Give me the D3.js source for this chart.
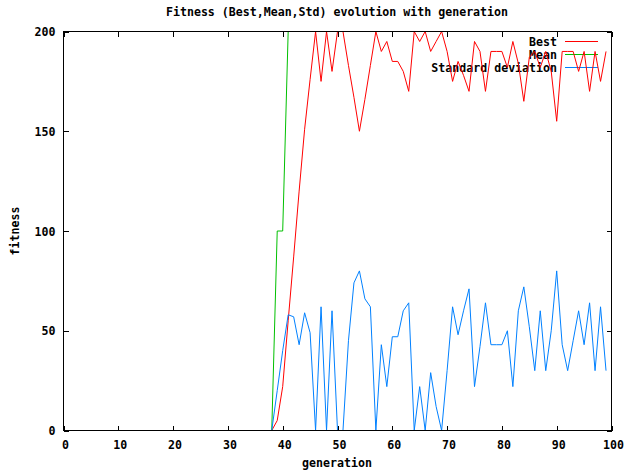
<!DOCTYPE html>
<html>
<head>
<meta charset="utf-8">
<script src="https://cdn.jsdelivr.net/npm/d3@7/dist/d3.min.js"></script>
<style>
  html, body { margin: 0; padding: 0; background: #fff; }
  svg { display: block; }
  text { font-family: "DejaVu Sans Mono", "Liberation Mono", monospace; font-weight: bold; font-size: 11.6px; fill: #000; }
</style>
</head>
<body>
<svg id="chart" width="625" height="472"></svg>
<script>
// ---- data ----
const title = "Fitness (Best,Mean,Std) evolution with generation";
const xLabel = "generation";
const yLabel = "fitness";
const xTicks = [0, 10, 20, 30, 40, 50, 60, 70, 80, 90, 100];
const yTicks = [0, 50, 100, 150, 200];
const firstGeneration = 38;
const seriesNames = ["Best", "Mean", "Standard deviation"];
const seriesColors = ["#ff0000", "#00c000", "#0080ff"];

const best = [0, 5, 22, 55, 87, 120, 151, 176, 200, 175,
  200, 180, 200, 200, 183, 167, 150, 166, 183, 200,
  190, 195, 185, 185, 180, 170, 200, 195, 200, 190,
  195, 200, 190, 175, 185, 178, 170, 195, 190, 170,
  190, 190, 190, 182, 195, 184, 165, 187, 190, 182,
  190, 180, 155, 190, 190, 190, 180, 190, 170, 190,
  175, 190];

const mean = [0, 100, 100, 200, 200, 200, 200, 200, 200, 200,
  200, 200, 200, 200, 200, 200, 200, 200, 200, 200,
  200, 200, 200, 200, 200, 200, 200, 200, 200, 200,
  200, 200, 200, 200, 200, 200, 200, 200, 200, 200,
  200, 200, 200, 200, 200, 200, 200, 200, 200, 200,
  200, 200, 200, 200, 200, 200, 200, 200, 200, 200,
  200, 200];

const stdev = [0, 20, 40, 58, 57, 43, 59, 49, 0, 62,
  0, 60, 0, 0, 45, 74, 80, 66, 62, 0,
  43, 22, 47, 47, 60, 64, 0, 22, 0, 29,
  12, 0, 30, 62, 48, 60, 71, 22, 42, 64,
  43, 43, 43, 50, 22, 60, 72, 52, 30, 60,
  30, 50, 80, 43, 30, 45, 60, 43, 64, 30,
  62, 30];

// ---- layout ----
const svg = d3.select("#chart");
const pLeft = 63.5, pRight = 611.5, pTop = 31.5, pBottom = 430.5;
const x = d3.scaleLinear().domain([0, 100]).range([pLeft, pRight]);
const y = d3.scaleLinear().domain([0, 200]).range([pBottom, pTop]);
const tickLen = 5;

svg.append("rect").attr("width", 625).attr("height", 472).attr("fill", "#fff");

svg.append("defs").append("clipPath").attr("id", "plotclip")
  .append("rect").attr("x", pLeft).attr("y", pTop - 1)
  .attr("width", pRight - pLeft).attr("height", pBottom - pTop + 1);

// title and axis labels
svg.append("text").attr("x", 337).attr("y", 12).attr("dy", "0.35em")
  .attr("text-anchor", "middle").text(title);
svg.append("text").attr("x", 337).attr("y", 463).attr("dy", "0.35em")
  .attr("text-anchor", "middle").text(xLabel);
svg.append("text").attr("transform", "translate(15,231) rotate(-90)")
  .attr("dy", "0.35em").attr("text-anchor", "middle").text(yLabel);

// axes (ticks inward, mirrored) via d3 axes
const axisG = svg.append("g").attr("shape-rendering", "crispEdges");
const bottomAxis = axisG.append("g").attr("transform", `translate(0,${pBottom})`)
  .call(d3.axisBottom(x).tickValues(xTicks).tickSizeInner(-tickLen).tickSizeOuter(0).tickPadding(10));
const topAxis = axisG.append("g").attr("transform", `translate(0,${pTop})`)
  .call(d3.axisTop(x).tickValues(xTicks).tickSizeInner(-tickLen).tickSizeOuter(0).tickFormat(""));
const leftAxis = axisG.append("g").attr("transform", `translate(${pLeft},0)`)
  .call(d3.axisLeft(y).tickValues(yTicks).tickSizeInner(-tickLen).tickSizeOuter(0).tickPadding(8));
const rightAxis = axisG.append("g").attr("transform", `translate(${pRight},0)`)
  .call(d3.axisRight(y).tickValues(yTicks).tickSizeInner(-tickLen).tickSizeOuter(0).tickFormat(""));
axisG.selectAll(".domain").remove();
axisG.selectAll(".tick line").attr("stroke", "#000").attr("stroke-width", 1);
axisG.selectAll("text").attr("fill", "#000")
  .style("font-family", "'DejaVu Sans Mono', monospace")
  .style("font-weight", "bold").style("font-size", "11.6px");
bottomAxis.selectAll("text").attr("dx", "1.5");
leftAxis.selectAll("text").attr("dy", "0.35em");

// legend text (drawn before data, like gnuplot)
const legendG = svg.append("g");
seriesNames.forEach((name, i) => {
  const ly = 41.5 + i * 13;
  legendG.append("text").attr("x", 557).attr("y", ly).attr("dy", "0.35em")
    .attr("text-anchor", "end").text(name);
  legendG.append("line").attr("x1", 565).attr("x2", 598)
    .attr("y1", ly).attr("y2", ly)
    .attr("stroke", seriesColors[i]).attr("stroke-width", 1)
    .attr("shape-rendering", "crispEdges");
});

// data lines
const line = d3.line()
  .x((d, i) => x(firstGeneration + i))
  .y(d => y(d));
const plotG = svg.append("g").attr("clip-path", "url(#plotclip)");
[best, mean, stdev].forEach((vals, i) => {
  plotG.append("path").datum(vals)
    .attr("d", line)
    .attr("fill", "none")
    .attr("stroke", seriesColors[i])
    .attr("stroke-width", 1);
});

// border on top
svg.append("rect").attr("x", pLeft).attr("y", pTop)
  .attr("width", pRight - pLeft).attr("height", pBottom - pTop)
  .attr("fill", "none").attr("stroke", "#000").attr("stroke-width", 1)
  .attr("shape-rendering", "crispEdges");
</script>
</body>
</html>
